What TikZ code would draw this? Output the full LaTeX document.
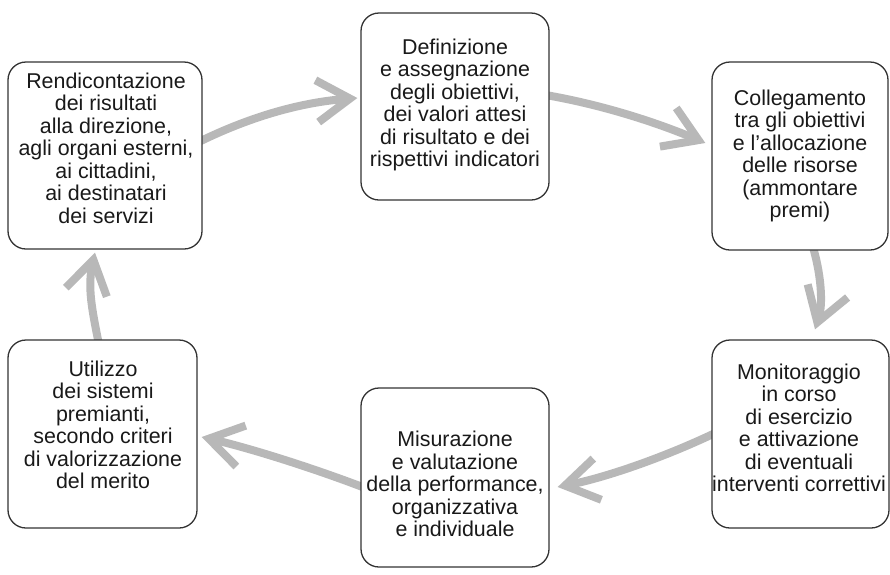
\documentclass[tikz,border=0pt]{standalone}
\usepackage{fontspec}
\setmainfont{Liberation Sans}
\usetikzlibrary{arrows.meta,calc}
\pgfdeclarelayer{bg}
\pgfsetlayers{bg,main}
\begin{document}
\begin{tikzpicture}[x=1pt,y=-1pt,
  box/.style={draw=black!80,line width=1.3pt,fill=white,rounded corners=18pt,inner sep=0pt},
  txt/.style={align=center,inner sep=0pt,font=\fontsize{21.4}{22.5}\selectfont,text=black!90},
  flow/.style={draw=black!28,line width=8pt,-{Straight Barb[length=33pt,width=42pt]}}]
\useasboundingbox (0,0) rectangle (890,574);
% boxes
\node[box,minimum width=194pt,minimum height=187pt] (b1) at (105,155.5) {};
\node[box,minimum width=188pt,minimum height=187pt] (b2) at (455,106.5) {};
\node[box,minimum width=176pt,minimum height=188pt] (b3) at (800,156) {};
\node[box,minimum width=177pt,minimum height=188pt] (b4) at (800.5,434) {};
\node[box,minimum width=188pt,minimum height=179pt] (b5) at (455,477.5) {};
\node[box,minimum width=189pt,minimum height=188pt] (b6) at (102.5,434) {};
% texts
\node[txt] (t1) at (106,148) {Rendicontazione\\dei risultati\\alla direzione,\\agli organi esterni,\\ai cittadini,\\ai destinatari\\dei servizi};
\node[txt] (t2) at (455,105) {Definizione\\e assegnazione\\degli obiettivi,\\dei valori attesi\\di risultato e dei\\rispettivi indicatori};
\node[txt] (t3) at (800,156) {Collegamento\\tra gli obiettivi\\e l’allocazione\\delle risorse\\(ammontare\\premi)};
\node[txt] (t4) at (799,428) {Monitoraggio\\in corso\\di esercizio\\e attivazione\\di eventuali\\interventi correttivi};
\node[txt] (t5) at (455,484) {Misurazione\\e valutazione\\della performance,\\organizzativa\\e individuale};
\node[txt] (t6) at (103,425) {Utilizzo\\dei sistemi\\premianti,\\secondo criteri\\di valorizzazione\\del merito};
% connectors
\begin{pgfonlayer}{bg}
\draw[flow] ([xshift=-10pt]b1.east |- 0,145) .. controls (254,114) and (306,102) .. ([xshift=-3pt]b2.west |- 0,98);
\draw[flow] ([xshift=-10pt]b2.east |- 0,94) .. controls (601,104) and (658,123) .. ([xshift=-6pt]b3.west |- 0,143);
\draw[flow] ([yshift=10pt]b3.south -| 811,0) .. controls (822,275) and (823,305) .. ([yshift=10pt]b4.north -| 815,0);
\draw[flow] ([xshift=10pt]b4.west |- 0,430) .. controls (667,456.5) and (606,477.5) .. ([xshift=8pt]b5.east |- 0,487);
\draw[flow] ([xshift=10pt]b5.west |- 0,490) .. controls (315,468.5) and (249.5,448) .. ([xshift=4pt]b6.east |- 0,437);
\draw[flow] ([yshift=-10pt]b6.north -| 100,0) .. controls (91,306) and (87.6,286.3) .. ([yshift=-3pt]b1.south -| 95,0);
\end{pgfonlayer}
\end{tikzpicture}
\end{document}
